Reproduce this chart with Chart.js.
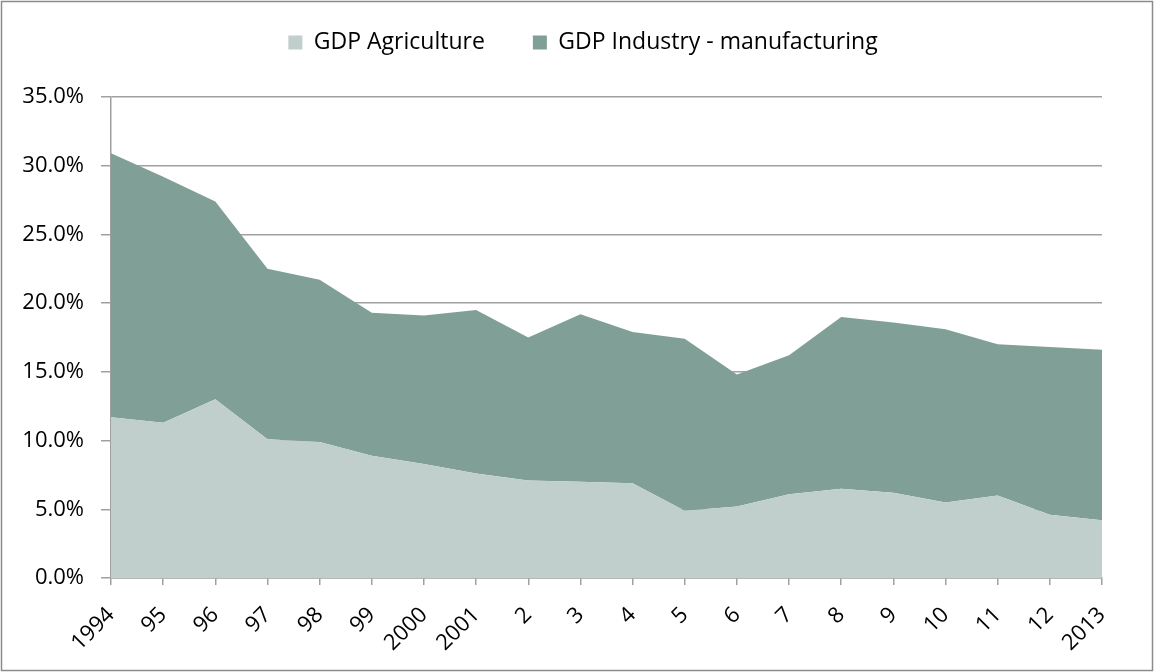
<!DOCTYPE html>
<html>
<head>
<meta charset="utf-8">
<script src="https://cdn.jsdelivr.net/npm/chart.js@4/dist/chart.umd.min.js"></script>
<style>
  body { margin: 0; background: #fff; }
  #wrap { width: 1154px; height: 672px; position: relative; }
</style>
</head>
<body>
<div id="wrap"><canvas id="gdpChart"></canvas></div>
<script>
const years = ["1994", "95", "96", "97", "98", "99", "2000", "2001", "2", "3", "4", "5", "6", "7", "8", "9", "10", "11", "12", "2013"];
const agriculture = [11.7, 11.3, 13.0, 10.1, 9.9, 8.9, 8.3, 7.6, 7.1, 7.0, 6.9, 4.9, 5.2, 6.1, 6.5, 6.2, 5.5, 6.0, 4.6, 4.2];
const manufacturing = [19.2, 17.9, 14.4, 12.4, 11.8, 10.4, 10.8, 11.9, 10.4, 12.2, 11.0, 12.5, 9.6, 10.1, 12.5, 12.4, 12.6, 11.0, 12.2, 12.4];
const yTicks = [0, 5, 10, 15, 20, 25, 30, 35];

// white background + thin grey frame round the whole picture
const frame = {
  id: "frame",
  beforeDraw(chart) {
    const c = chart.ctx;
    c.save();
    c.fillStyle = "#fff";
    c.fillRect(0, 0, chart.width, chart.height);
    c.restore();
  },
  afterDraw(chart) {
    const c = chart.ctx;
    c.save();
    c.strokeStyle = "#8c8c8c";
    c.lineWidth = 1.5;
    c.strokeRect(1.5, 1.5, chart.width - 3, chart.height - 3);
    c.restore();
  },
};

// extra room under the legend row, and centre the row over the whole picture
const legendGap = {
  id: "legendGap",
  beforeLayout(chart) {
    const lg = chart.legend;
    if (!lg || lg._gapPatched) return;
    const fit = lg.fit;
    lg.fit = function () {
      fit.call(this);
      this.height += 33;
    };
    lg._gapPatched = true;
  },
  afterLayout(chart) {
    const lg = chart.legend;
    if (!lg) return;
    lg.left += 26;
    lg.right += 26;
  },
};

const ctx = document.getElementById("gdpChart").getContext("2d");
new Chart(ctx, {
  type: "line",
  data: {
    labels: years,
    datasets: [
      {
        label: "GDP Agriculture",
        data: agriculture,
        backgroundColor: "#c0cfcb",
        borderWidth: 0,
        pointRadius: 0,
        fill: "origin",
        tension: 0,
      },
      {
        label: "GDP Industry - manufacturing",
        data: manufacturing,
        backgroundColor: "#809f96",
        borderWidth: 0,
        pointRadius: 0,
        fill: "-1",
        tension: 0,
      },
    ],
  },
  options: {
    responsive: true,
    maintainAspectRatio: false,
    animation: false,
    layout: { padding: { top: -17, right: 52, bottom: 0, left: 12 } },
    plugins: {
      tooltip: { enabled: false },
      legend: {
        position: "top",
        labels: {
          boxWidth: 14,
          boxHeight: 14,
          padding: 48,
          color: "#000",
          font: { family: "Open Sans", size: 23 },
        },
      },
    },
    scales: {
      x: {
        grid: { drawOnChartArea: false, drawTicks: true, tickLength: 7, color: "#a0a0a0", lineWidth: 1.5 },
        border: { color: "#a0a0a0", width: 1.5 },
        ticks: {
          color: "#000",
          maxRotation: 45,
          minRotation: 45,
          autoSkip: false,
          padding: 17,
          font: { family: "Open Sans", size: 22 },
        },
        afterFit: (s) => { s.height = 94; },
      },
      y: {
        stacked: true,
        min: 0,
        max: 35,
        afterBuildTicks: (s) => { s.ticks = yTicks.map((v) => ({ value: v })); },
        grid: { color: "#a0a0a0", lineWidth: 1.5, tickLength: 10 },
        border: { color: "#a0a0a0", width: 1.5 },
        ticks: {
          color: "#000",
          padding: 17,
          font: { family: "Open Sans", size: 22 },
          callback: (v) => Number(v).toFixed(1) + "%",
        },
        afterFit: (s) => { s.width = 99; },
      },
    },
  },
  plugins: [frame, legendGap],
});
</script>
</body>
</html>
